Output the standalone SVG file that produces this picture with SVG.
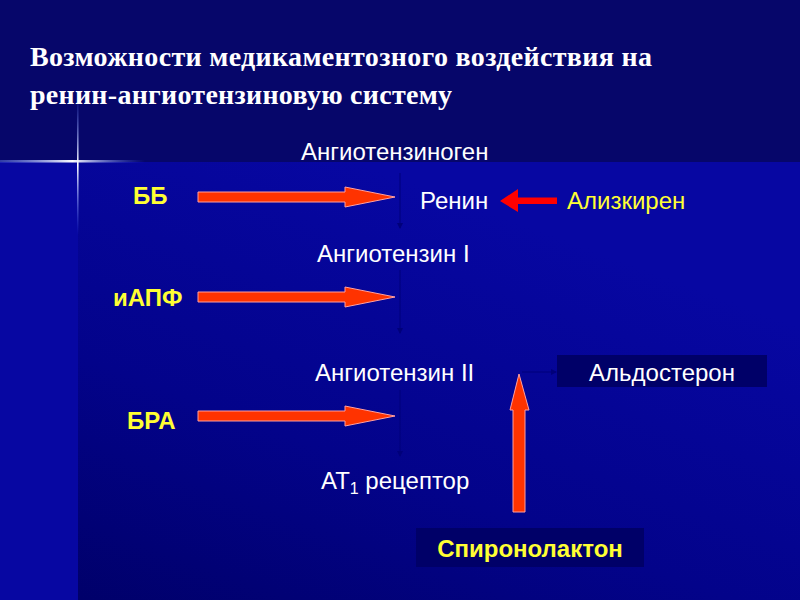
<svg xmlns="http://www.w3.org/2000/svg" width="800" height="600" viewBox="0 0 800 600">
<defs>
<linearGradient id="lowbg" x1="0" y1="1" x2="0.55" y2="0.1">
<stop offset="0" stop-color="#00006a"/>
<stop offset="0.45" stop-color="#03038a"/>
<stop offset="1" stop-color="#0707a2"/>
</linearGradient>
<linearGradient id="hline" x1="0" y1="0" x2="1" y2="0">
<stop offset="0" stop-color="#6f8cff" stop-opacity="0.4"/>
<stop offset="0.5" stop-color="#ffffff"/>
<stop offset="1" stop-color="#4a6cff" stop-opacity="0"/>
</linearGradient>
<linearGradient id="vline" x1="0" y1="0" x2="0" y2="1">
<stop offset="0" stop-color="#4a6cff" stop-opacity="0"/>
<stop offset="0.5" stop-color="#ffffff"/>
<stop offset="1" stop-color="#4a6cff" stop-opacity="0"/>
</linearGradient>
<marker id="dk" markerWidth="6" markerHeight="6" refX="5" refY="3" orient="auto" markerUnits="userSpaceOnUse">
<path d="M0,0 L6,3 L0,6 Z" fill="#00007a"/>
</marker>
</defs>
<style>
.lbl{font-family:"Liberation Sans",Arial,sans-serif;font-size:24px;fill:#ffffff}
.drug{font-family:"Liberation Sans",Arial,sans-serif;font-size:24px;font-weight:bold;fill:#ffff33}
.yel{fill:#ffff33}
.title{font-family:"Liberation Serif","Times New Roman",serif;font-size:28px;font-weight:bold;fill:#ffffff}
.arr{fill:#ff3300;stroke:#ff9f9f;stroke-width:1}
.faint{stroke:#00007a;stroke-width:1;fill:none}
.box{fill:#000068}
</style>

<!-- background -->
<rect x="0" y="0" width="800" height="600" fill="#0707a2"/>
<rect x="0" y="0" width="800" height="162" fill="#06066a"/>
<rect x="78" y="162" width="722" height="438" fill="url(#lowbg)"/>
<rect x="0" y="160" width="145" height="2.5" fill="url(#hline)"/>
<rect x="77" y="95" width="1.6" height="140" fill="url(#vline)"/>

<!-- title -->
<text class="title" x="30" y="66" textLength="622" lengthAdjust="spacing">Возможности медикаментозного воздействия на</text>
<text class="title" x="30" y="104" textLength="422" lengthAdjust="spacing">ренин-ангиотензиновую систему</text>

<!-- connectors -->
<g id="connectors">
<line class="faint" x1="400" y1="173" x2="400" y2="228" marker-end="url(#dk)"/>
<line class="faint" x1="400" y1="270" x2="400" y2="333" marker-end="url(#dk)"/>
<line class="faint" x1="400" y1="390" x2="400" y2="456" marker-end="url(#dk)"/>
<line class="faint" x1="522" y1="372" x2="556" y2="372" marker-end="url(#dk)"/>
<path id="arrow-bb" class="arr" d="M198,192 L345,192 L345,187 L395,197 L345,207 L345,202 L198,202 Z"/>
<path id="arrow-iapf" class="arr" d="M198,292 L345,292 L345,287 L395,297 L345,307 L345,302 L198,302 Z"/>
<path id="arrow-bra" class="arr" d="M198,411 L345,411 L345,406 L395,416 L345,426 L345,421 L198,421 Z"/>
<path id="arrow-spiro" class="arr" d="M513,512 L513,410 L510,410 L519,374 L529,410 L525,410 L525,512 Z"/>
<path id="arrow-aliskiren" d="M557,197.5 L518,197.5 L518,189 L500,201 L518,212 L518,204 L557,204 Z" fill="#ff0000"/>
</g>

<!-- nodes -->
<g id="node-angiotensinogen"><text class="lbl" x="301" y="160">Ангиотензиноген</text></g>
<g id="node-renin"><text class="lbl" x="420" y="209">Ренин</text></g>
<g id="node-aliskiren"><text class="lbl yel" x="567" y="209">Ализкирен</text></g>
<g id="node-angiotensin1"><text class="lbl" x="317" y="262">Ангиотензин I</text></g>
<g id="node-angiotensin2"><text class="lbl" x="315" y="381">Ангиотензин II</text></g>
<g id="node-at1"><text class="lbl" x="321" y="489">АТ<tspan font-size="16" dy="5">1</tspan><tspan dy="-5"> рецептор</tspan></text></g>
<g id="node-aldosterone"><rect class="box" x="557" y="355" width="210" height="32"/><text class="lbl" x="662" y="381" text-anchor="middle">Альдостерон</text></g>
<g id="node-spironolactone"><rect class="box" x="416" y="528" width="228" height="39"/><text class="drug" x="530" y="557" text-anchor="middle">Спиронолактон</text></g>
<g id="node-bb"><text class="drug" x="133" y="204">ББ</text></g>
<g id="node-iapf"><text class="drug" x="113" y="306">иАПФ</text></g>
<g id="node-bra"><text class="drug" x="127" y="429">БРА</text></g>
</svg>
